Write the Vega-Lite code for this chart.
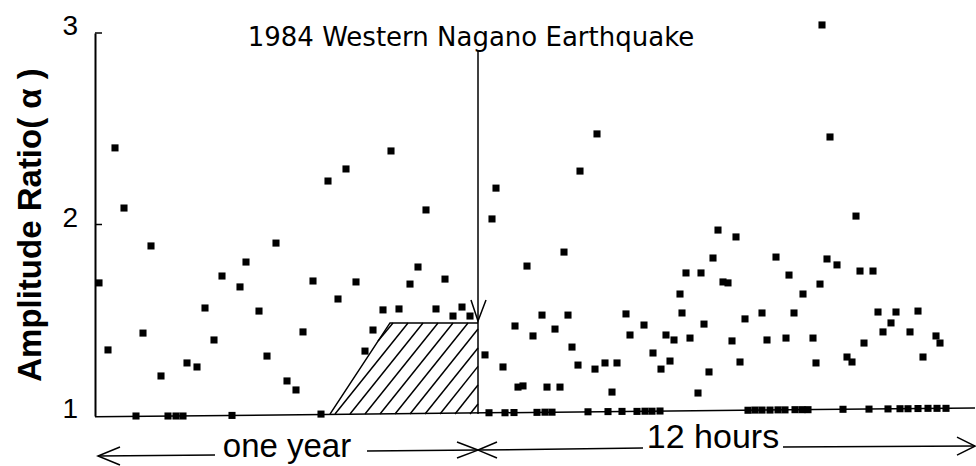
{
  "$schema": "https://vega.github.io/schema/vega-lite/v6.json",
  "width": 880,
  "height": 383,
  "autosize": {"type": "none"},
  "padding": {"left": 95, "top": 33, "right": 1, "bottom": 50},
  "background": "white",
  "config": {"view": {"stroke": null}},
  "datasets": {
    "ticklabels": [
      {"lab": "1", "v": 1},
      {"lab": "2", "v": 2},
      {"lab": "3", "v": 3}
    ],
    "lines": [
      {"seg": "tk2", "o": 1, "t": 0, "v": 2},
      {"seg": "tk2", "o": 2, "t": 7, "v": 2},
      {"seg": "tk3", "o": 1, "t": 0, "v": 3},
      {"seg": "tk3", "o": 2, "t": 7, "v": 3},
      {"seg": "trap", "o": 1, "t": 235, "v": 1.010},
      {"seg": "trap", "o": 2, "t": 295, "v": 1.486},
      {"seg": "trap", "o": 3, "t": 383, "v": 1.486},
      {"seg": "quake", "o": 1, "t": 383, "v": 2.911},
      {"seg": "quake", "o": 2, "t": 383, "v": 1.010},
      {"seg": "vhead", "o": 1, "t": 376, "v": 1.606},
      {"seg": "vhead", "o": 2, "t": 383, "v": 1.496},
      {"seg": "vhead", "o": 3, "t": 391, "v": 1.606},
      {"seg": "h1", "o": 1, "t": 283, "v": 1.392},
      {"seg": "h1", "o": 2, "t": 298, "v": 1.486},
      {"seg": "h2", "o": 1, "t": 240, "v": 1.010},
      {"seg": "h2", "o": 2, "t": 313, "v": 1.486},
      {"seg": "h3", "o": 1, "t": 255, "v": 1.010},
      {"seg": "h3", "o": 2, "t": 328, "v": 1.486},
      {"seg": "h4", "o": 1, "t": 270, "v": 1.010},
      {"seg": "h4", "o": 2, "t": 343, "v": 1.486},
      {"seg": "h5", "o": 1, "t": 285, "v": 1.010},
      {"seg": "h5", "o": 2, "t": 358, "v": 1.486},
      {"seg": "h6", "o": 1, "t": 300, "v": 1.010},
      {"seg": "h6", "o": 2, "t": 373, "v": 1.486},
      {"seg": "h7", "o": 1, "t": 315, "v": 1.010},
      {"seg": "h7", "o": 2, "t": 383, "v": 1.454},
      {"seg": "h8", "o": 1, "t": 330, "v": 1.010},
      {"seg": "h8", "o": 2, "t": 383, "v": 1.355},
      {"seg": "h9", "o": 1, "t": 345, "v": 1.010},
      {"seg": "h9", "o": 2, "t": 383, "v": 1.259},
      {"seg": "h10", "o": 1, "t": 360, "v": 1.010},
      {"seg": "h10", "o": 2, "t": 383, "v": 1.162},
      {"seg": "h11", "o": 1, "t": 375, "v": 1.010},
      {"seg": "h11", "o": 2, "t": 383, "v": 1.063},
      {"seg": "base", "o": 1, "t": 0, "v": 0.996},
      {"seg": "base", "o": 2, "t": 880, "v": 1.042},
      {"seg": "a1", "o": 1, "t": 3, "v": 0.791},
      {"seg": "a1", "o": 2, "t": 120, "v": 0.796},
      {"seg": "a1h", "o": 1, "t": 25, "v": 0.838},
      {"seg": "a1h", "o": 2, "t": 3, "v": 0.791},
      {"seg": "a1h", "o": 3, "t": 25, "v": 0.744},
      {"seg": "a2", "o": 1, "t": 272, "v": 0.817},
      {"seg": "a2", "o": 2, "t": 383, "v": 0.822},
      {"seg": "a2h", "o": 1, "t": 362, "v": 0.864},
      {"seg": "a2h", "o": 2, "t": 383, "v": 0.822},
      {"seg": "a2h", "o": 3, "t": 362, "v": 0.781},
      {"seg": "a3h", "o": 1, "t": 402, "v": 0.864},
      {"seg": "a3h", "o": 2, "t": 383, "v": 0.822},
      {"seg": "a3h", "o": 3, "t": 402, "v": 0.781},
      {"seg": "a3", "o": 1, "t": 383, "v": 0.822},
      {"seg": "a3", "o": 2, "t": 548, "v": 0.833},
      {"seg": "a4", "o": 1, "t": 688, "v": 0.838},
      {"seg": "a4", "o": 2, "t": 880, "v": 0.843},
      {"seg": "a4h", "o": 1, "t": 862, "v": 0.890},
      {"seg": "a4h", "o": 2, "t": 880, "v": 0.843},
      {"seg": "a4h", "o": 3, "t": 862, "v": 0.796}
    ],
    "points": [
      {"t": 4, "v": 1.695}, {"t": 13, "v": 1.345}, {"t": 20, "v": 2.40}, {"t": 29, "v": 2.086},
      {"t": 48, "v": 1.433}, {"t": 56, "v": 1.888}, {"t": 66, "v": 1.209}, {"t": 92, "v": 1.277},
      {"t": 102, "v": 1.256}, {"t": 110, "v": 1.564}, {"t": 119, "v": 1.397}, {"t": 127, "v": 1.731},
      {"t": 145, "v": 1.674}, {"t": 151, "v": 1.804}, {"t": 164, "v": 1.548}, {"t": 172, "v": 1.313},
      {"t": 181, "v": 1.903}, {"t": 192, "v": 1.183}, {"t": 201, "v": 1.136}, {"t": 208, "v": 1.439},
      {"t": 218, "v": 1.705}, {"t": 233, "v": 2.227}, {"t": 243, "v": 1.611}, {"t": 251, "v": 2.290},
      {"t": 261, "v": 1.700}, {"t": 270, "v": 1.339}, {"t": 278, "v": 1.449}, {"t": 288, "v": 1.554},
      {"t": 296, "v": 2.384}, {"t": 304, "v": 1.559}, {"t": 315, "v": 1.689}, {"t": 323, "v": 1.778},
      {"t": 331, "v": 2.076}, {"t": 341, "v": 1.559}, {"t": 350, "v": 1.715}, {"t": 358, "v": 1.522},
      {"t": 367, "v": 1.569}, {"t": 375, "v": 1.522},
      {"t": 41, "v": 1.0}, {"t": 73, "v": 1.0}, {"t": 81, "v": 1.0}, {"t": 88, "v": 1.0},
      {"t": 137, "v": 1.003}, {"t": 226, "v": 1.01},
      {"t": 390, "v": 1.319}, {"t": 397, "v": 2.029}, {"t": 401, "v": 2.19}, {"t": 408, "v": 1.256},
      {"t": 420, "v": 1.470}, {"t": 423, "v": 1.151}, {"t": 428, "v": 1.157}, {"t": 432, "v": 1.783},
      {"t": 438, "v": 1.418}, {"t": 447, "v": 1.527}, {"t": 452, "v": 1.151}, {"t": 460, "v": 1.454},
      {"t": 465, "v": 1.151}, {"t": 469, "v": 1.856}, {"t": 473, "v": 1.527}, {"t": 477, "v": 1.360},
      {"t": 483, "v": 1.266}, {"t": 485, "v": 2.279}, {"t": 500, "v": 1.245}, {"t": 502, "v": 2.473},
      {"t": 510, "v": 1.277}, {"t": 517, "v": 1.125}, {"t": 522, "v": 1.277}, {"t": 531, "v": 1.533},
      {"t": 535, "v": 1.423}, {"t": 549, "v": 1.475}, {"t": 558, "v": 1.329}, {"t": 566, "v": 1.245},
      {"t": 571, "v": 1.423}, {"t": 575, "v": 1.287}, {"t": 579, "v": 1.397}, {"t": 585, "v": 1.637},
      {"t": 587, "v": 1.538}, {"t": 591, "v": 1.747}, {"t": 595, "v": 1.407}, {"t": 603, "v": 1.120},
      {"t": 606, "v": 1.747}, {"t": 609, "v": 1.480}, {"t": 614, "v": 1.230}, {"t": 618, "v": 1.825},
      {"t": 623, "v": 1.971}, {"t": 628, "v": 1.700}, {"t": 633, "v": 1.695}, {"t": 637, "v": 1.392},
      {"t": 641, "v": 1.935}, {"t": 645, "v": 1.282}, {"t": 650, "v": 1.507}, {"t": 667, "v": 1.538},
      {"t": 672, "v": 1.397}, {"t": 681, "v": 1.830}, {"t": 691, "v": 1.407}, {"t": 694, "v": 1.736},
      {"t": 699, "v": 1.538}, {"t": 708, "v": 1.637}, {"t": 718, "v": 1.407}, {"t": 721, "v": 1.277},
      {"t": 725, "v": 1.689}, {"t": 727, "v": 3.042}, {"t": 732, "v": 1.820}, {"t": 735, "v": 2.457},
      {"t": 742, "v": 1.789}, {"t": 752, "v": 1.308}, {"t": 757, "v": 1.282}, {"t": 761, "v": 2.044},
      {"t": 765, "v": 1.757}, {"t": 769, "v": 1.381}, {"t": 778, "v": 1.757}, {"t": 783, "v": 1.543},
      {"t": 788, "v": 1.439}, {"t": 796, "v": 1.486}, {"t": 801, "v": 1.543}, {"t": 815, "v": 1.439},
      {"t": 823, "v": 1.548}, {"t": 828, "v": 1.308}, {"t": 841, "v": 1.418}, {"t": 845, "v": 1.381},
      {"t": 394, "v": 1.017}, {"t": 410, "v": 1.017}, {"t": 419, "v": 1.018}, {"t": 442, "v": 1.019},
      {"t": 450, "v": 1.020}, {"t": 457, "v": 1.020}, {"t": 493, "v": 1.022}, {"t": 513, "v": 1.023},
      {"t": 527, "v": 1.024}, {"t": 542, "v": 1.024}, {"t": 550, "v": 1.025}, {"t": 557, "v": 1.025},
      {"t": 565, "v": 1.026}, {"t": 653, "v": 1.030}, {"t": 660, "v": 1.031}, {"t": 667, "v": 1.031},
      {"t": 675, "v": 1.031}, {"t": 683, "v": 1.032}, {"t": 690, "v": 1.032}, {"t": 700, "v": 1.033},
      {"t": 707, "v": 1.033}, {"t": 713, "v": 1.033}, {"t": 748, "v": 1.035}, {"t": 774, "v": 1.036},
      {"t": 793, "v": 1.037}, {"t": 805, "v": 1.038}, {"t": 813, "v": 1.038}, {"t": 823, "v": 1.039},
      {"t": 833, "v": 1.040}, {"t": 842, "v": 1.040}, {"t": 851, "v": 1.040}
    ]
  },
  "encoding": {
    "x": {"type": "quantitative", "scale": {"domain": [0, 880]}, "axis": null},
    "y": {
      "type": "quantitative",
      "scale": {"domain": [1, 3], "nice": false},
      "axis": {
        "title": "Amplitude Ratio( α )",
        "values": [1, 2, 3],
        "grid": false,
        "ticks": false,
        "labels": false,
        "domainColor": "black",
        "domainWidth": 2,
        "titleFont": "Liberation Sans",
        "titleFontSize": 33,
        "titleFontWeight": "bold",
        "titleColor": "black",
        "titleX": -48
      }
    }
  },
  "layer": [
    {
      "data": {"name": "lines"},
      "mark": {"type": "line", "color": "black", "strokeWidth": 1.5, "clip": false},
      "encoding": {
        "x": {"field": "t", "type": "quantitative"},
        "y": {"field": "v", "type": "quantitative"},
        "detail": {"field": "seg"},
        "order": {"field": "o", "type": "quantitative"}
      }
    },
    {
      "data": {"name": "points"},
      "mark": {"type": "square", "color": "black", "opacity": 1, "size": 50, "filled": true},
      "encoding": {
        "x": {"field": "t", "type": "quantitative"},
        "y": {"field": "v", "type": "quantitative"}
      }
    },
    {
      "data": {"name": "ticklabels"},
      "mark": {"type": "text", "font": "Liberation Sans", "fontSize": 28, "color": "black", "align": "right", "baseline": "middle", "dy": -6},
      "encoding": {
        "x": {"datum": -17, "type": "quantitative"},
        "y": {"field": "v", "type": "quantitative"},
        "text": {"field": "lab"}
      }
    },
    {
      "data": {"values": [{}]},
      "mark": {"type": "text", "text": "1984 Western Nagano Earthquake", "font": "DejaVu Sans", "fontSize": 26, "color": "black", "align": "center", "baseline": "middle"},
      "encoding": {
        "x": {"datum": 376, "type": "quantitative"},
        "y": {"datum": 2.974, "type": "quantitative"}
      }
    },
    {
      "data": {"values": [{}]},
      "mark": {"type": "text", "text": "one year", "font": "Liberation Sans", "fontSize": 33, "color": "black", "align": "center", "baseline": "alphabetic"},
      "encoding": {
        "x": {"datum": 192, "type": "quantitative"},
        "y": {"datum": 0.786, "type": "quantitative"}
      }
    },
    {
      "data": {"values": [{}]},
      "mark": {"type": "text", "text": "12 hours", "font": "Liberation Sans", "fontSize": 34, "color": "black", "align": "center", "baseline": "alphabetic"},
      "encoding": {
        "x": {"datum": 618, "type": "quantitative"},
        "y": {"datum": 0.833, "type": "quantitative"}
      }
    }
  ]
}
